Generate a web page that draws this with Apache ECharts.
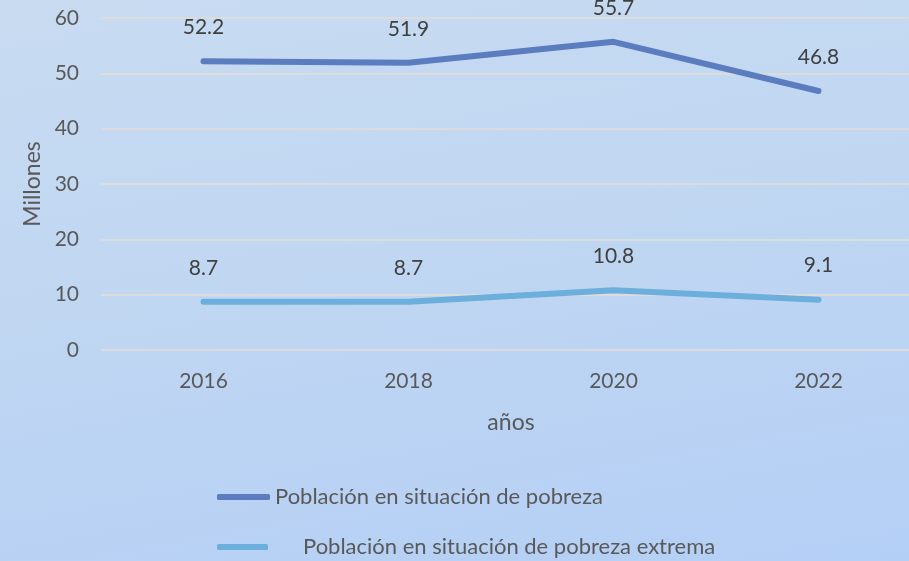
<!DOCTYPE html>
<html>
<head>
<meta charset="utf-8">
<script src="https://cdn.jsdelivr.net/npm/echarts@6/dist/echarts.min.js"></script>
<style>
  html, body { margin: 0; padding: 0; overflow: hidden; }
  #chart {
    width: 921px;
    height: 561px;
    background: linear-gradient(170deg, #c8dbf1 0%, #bfd6f2 50%, #b4cff6 100%);
  }
</style>
</head>
<body>
<div id="chart"></div>
<script>
const years = ['2016', '2018', '2020', '2022']
const pobreza = [52.2, 51.9, 55.7, 46.8]
const pobrezaExtrema = [8.7, 8.7, 10.8, 9.1]
const seriesNames = ['Población en situación de pobreza', 'Población en situación de pobreza extrema']

const font = 'Lato, "Open Sans", sans-serif'
const chart = echarts.init(document.getElementById('chart'))

const valueLabel = {
  show: true,
  position: 'top',
  distance: 23,
  fontFamily: font,
  fontSize: 21,
  color: '#404040',
  formatter: ({ value }) => value.toFixed(1)
}

chart.setOption({
  backgroundColor: 'transparent',
  textStyle: { fontFamily: font },
  grid: { left: 101, right: 0, top: 18, bottom: 211 },
  legend: [
    {
      data: [seriesNames[0]],
      left: 217,
      top: 486,
      padding: 0,
      icon: 'roundRect',
      itemWidth: 53,
      itemHeight: 6,
      textStyle: { fontFamily: font, fontSize: 22, color: '#595959' }
    },
    {
      data: [seriesNames[1]],
      left: 217,
      top: 536,
      padding: 0,
      icon: 'roundRect',
      itemWidth: 51,
      itemHeight: 6,
      textStyle: { fontFamily: font, fontSize: 22, color: '#595959', padding: [0, 0, 0, 30] }
    }
  ],
  xAxis: {
    type: 'category',
    data: years,
    boundaryGap: true,
    name: 'años',
    nameLocation: 'middle',
    nameGap: 61,
    nameTextStyle: { fontSize: 23, color: '#595959' },
    axisLine: { show: false },
    axisTick: { show: false },
    axisLabel: { fontSize: 21, color: '#595959', margin: 21 }
  },
  yAxis: {
    type: 'value',
    min: 0,
    max: 60,
    interval: 10,
    name: 'Millones',
    nameLocation: 'middle',
    nameGap: 55,
    nameTextStyle: { fontSize: 23, color: '#595959' },
    axisLabel: { fontSize: 21, color: '#595959', margin: 22 },
    splitLine: { lineStyle: { color: '#dcdcdc', width: 2 } }
  },
  series: [
    {
      name: seriesNames[0],
      type: 'line',
      data: pobreza,
      symbol: 'circle',
      symbolSize: 1,
      color: '#5b7dbf',
      lineStyle: { width: 6, cap: 'round', join: 'round' },
      label: valueLabel
    },
    {
      name: seriesNames[1],
      type: 'line',
      data: pobrezaExtrema,
      symbol: 'circle',
      symbolSize: 1,
      color: '#6cafdc',
      lineStyle: { width: 6, cap: 'round', join: 'round' },
      label: valueLabel
    }
  ]
})
</script>
</body>
</html>
